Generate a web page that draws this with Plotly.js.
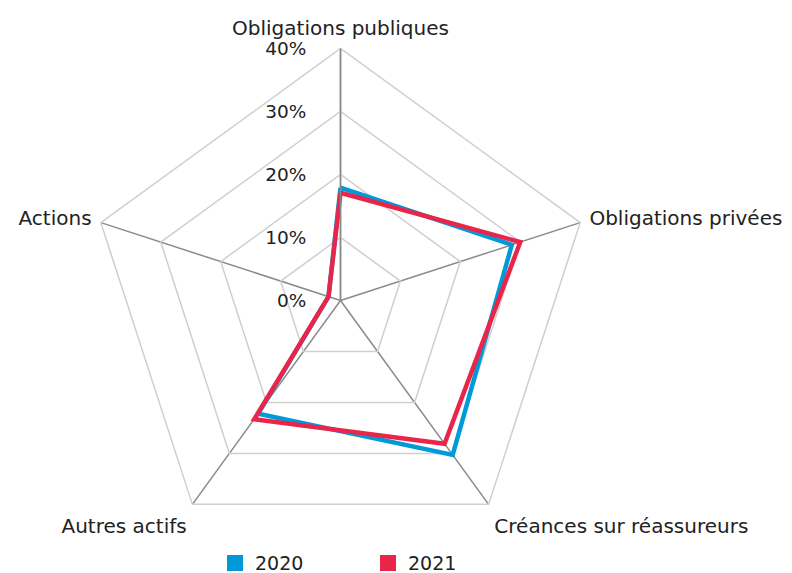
<!DOCTYPE html>
<html>
<head>
<meta charset="utf-8">
<script src="https://cdn.plot.ly/plotly-3.0.1.min.js"></script>
<style>html,body{margin:0;padding:0;background:#fff;}#chart{width:792px;height:573px;}</style>
</head>
<body>
<div id="chart"></div>
<script>
const categories = ["Obligations publiques", "Obligations privées", "Créances sur réassureurs", "Autres actifs", "Actions"];
const values2020 = [17.9, 28.6, 30.3, 22.2, 2.0];
const values2021 = [17.1, 30.0, 28.1, 23.3, 2.0];
const seriesNames = ["2020", "2021"];
const seriesColors = ["#009ad8", "#e9254a"];
const radialTicks = [0, 10, 20, 30, 40];

function closed(arr) { return arr.concat([arr[0]]); }

const data = [
  {type: "scatterpolar", r: closed(values2020), theta: closed(categories), mode: "lines",
   line: {color: seriesColors[0], width: 4.5}, showlegend: false, hoverinfo: "skip"},
  {type: "scatterpolar", r: closed(values2021), theta: closed(categories), mode: "lines",
   line: {color: seriesColors[1], width: 4.5}, showlegend: false, hoverinfo: "skip"},
  {type: "scatterpolar", r: [null], theta: [categories[0]], mode: "markers", name: seriesNames[0],
   marker: {symbol: "square", size: 16, color: seriesColors[0]}},
  {type: "scatterpolar", r: [null], theta: [categories[0]], mode: "markers", name: seriesNames[1],
   marker: {symbol: "square", size: 16, color: seriesColors[1]}}
];

const layout = {
  width: 792, height: 573,
  margin: {l: 0, r: 0, t: 0, b: 0, autoexpand: false},
  paper_bgcolor: "#fff",
  font: {family: "DejaVu Sans, sans-serif", size: 20, color: "#222"},
  polar: {
    domain: {x: [88.5/792, 592.5/792], y: [1 - 552.5/573, 1 - 48.5/573]},
    gridshape: "linear",
    bgcolor: "#fff",
    radialaxis: {
      range: [0, 40], tickvals: radialTicks, ticktext: radialTicks.map(v => v + "%"),
      angle: 90, tickangle: 90, side: "counterclockwise",
      showline: true, linecolor: "#8a8a8a", linewidth: 1.5,
      gridcolor: "#cfcfcf", gridwidth: 1.5,
      ticks: "outside", ticklen: 27, tickcolor: "rgba(0,0,0,0)",
      tickfont: {size: 18.5, color: "#222"}
    },
    angularaxis: {
      direction: "clockwise", rotation: 90,
      showline: true, linecolor: "#cfcfcf", linewidth: 1.5,
      gridcolor: "#8a8a8a", gridwidth: 1.5,
      ticks: "outside", ticklen: 5, tickcolor: "rgba(0,0,0,0)",
      tickfont: {size: 20, color: "#222"}
    }
  },
  showlegend: true,
  legend: {orientation: "h", x: 215/792, xanchor: "left", y: -0.016, yanchor: "bottom",
    entrywidth: 108, entrywidthmode: "pixels", font: {size: 19, color: "#222"},
    bgcolor: "rgba(0,0,0,0)"}
};

Plotly.newPlot("chart", data, layout, {displayModeBar: false, staticPlot: true});
</script>
</body>
</html>
